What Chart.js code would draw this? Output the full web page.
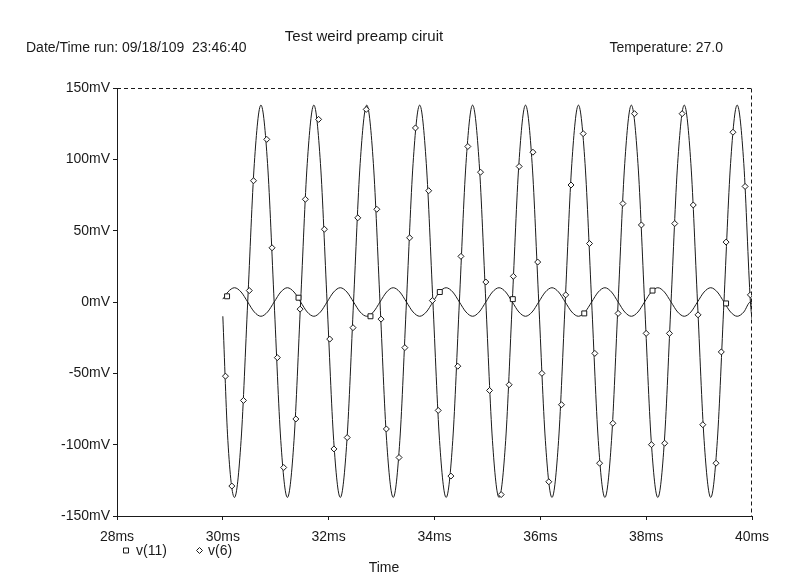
<!DOCTYPE html>
<html>
<head>
<meta charset="utf-8">
<script src="https://cdn.jsdelivr.net/npm/chart.js@4.4.1/dist/chart.umd.min.js"></script>
<style>
html,body{margin:0;padding:0;background:#fff;}
#wrap{width:800px;height:583px;position:relative;}
</style>
</head>
<body>
<div id="wrap"><canvas id="c" width="800" height="583"></canvas></div>
<script>
// ---- texts ----
const titleText = "Test weird preamp ciruit";
const runInfo = "Date/Time run: 09/18/109  23:46:40";
const tempInfo = "Temperature: 27.0";
const xAxisTitle = "Time";

// ---- ticks ----
const xTicks = [28, 30, 32, 34, 36, 38, 40];        // ms
const yTicks = [-150, -100, -50, 0, 50, 100, 150];  // mV

// ---- traces (time in ms, voltage in mV) ----
const timeMs = [
  30.000,
  30.095, 30.220, 30.345, 30.470, 30.595, 30.720, 30.845, 30.970,
  31.095, 31.220, 31.345, 31.470, 31.595, 31.720, 31.845, 31.970,
  32.095, 32.220, 32.345, 32.470, 32.595, 32.720, 32.845, 32.970,
  33.095, 33.220, 33.345, 33.470, 33.595, 33.720, 33.845, 33.970,
  34.095, 34.220, 34.345, 34.470, 34.595, 34.720, 34.845, 34.970,
  35.095, 35.220, 35.345, 35.470, 35.595, 35.720, 35.845, 35.970,
  36.095, 36.220, 36.345, 36.470, 36.595, 36.720, 36.845, 36.970,
  37.095, 37.220, 37.345, 37.470, 37.595, 37.720, 37.845, 37.970,
  38.095, 38.220, 38.345, 38.470, 38.595, 38.720, 38.845, 38.970,
  39.095, 39.220, 39.345, 39.470, 39.595, 39.720, 39.845, 39.970,
  40.000
];
const v6 = [
  -10,
  -97, -137, -97, 0, 97, 138, 97, 0,
  -97, -137, -97, 0, 97, 138, 97, 0,
  -97, -137, -97, 0, 97, 138, 97, 0,
  -97, -137, -97, 0, 97, 138, 97, 0,
  -97, -137, -97, 0, 97, 138, 97, 0,
  -97, -137, -97, 0, 97, 138, 97, 0,
  -97, -137, -97, 0, 97, 138, 97, 0,
  -97, -137, -97, 0, 97, 138, 97, 0,
  -97, -137, -97, 0, 97, 138, 97, 0,
  -97, -137, -97, 0, 97, 138, 97, 0,
  -12
];
const v11 = [
  2,
  7, 10, 7, 0, -7, -10, -7, 0,
  7, 10, 7, 0, -7, -10, -7, 0,
  7, 10, 7, 0, -7, -10, -7, 0,
  7, 10, 7, 0, -7, -10, -7, 0,
  7, 10, 7, 0, -7, -10, -7, 0,
  7, 10, 7, 0, -7, -10, -7, 0,
  7, 10, 7, 0, -7, -10, -7, 0,
  7, 10, 7, 0, -7, -10, -7, 0,
  7, 10, 7, 0, -7, -10, -7, 0,
  7, 10, 7, 0, -7, -10, -7, 0,
  -2
];

// ---- marker points ----
const v6MarkT = [30.05,30.17,30.39,30.50,30.58,30.83,30.93,31.03,31.15,31.38,31.46,31.56,31.81,31.92,
  32.02,32.10,32.35,32.46,32.55,32.71,32.91,32.99,33.09,33.33,33.44,33.53,33.64,33.89,33.96,
  34.07,34.31,34.44,34.50,34.63,34.87,34.97,35.04,35.26,35.41,35.49,35.60,35.86,35.95,
  36.03,36.16,36.40,36.48,36.58,36.81,36.93,37.03,37.12,37.37,37.47,37.56,37.78,37.91,
  38.00,38.10,38.35,38.44,38.54,38.68,38.89,38.98,39.07,39.32,39.42,39.51,39.64,39.87,39.97];
const v6MarkV = [-52,-129,-69,8,85,114,38,-39,-116,-82,-5,72,128,51,
  -26,-103,-95,-18,59,135,65,-12,-89,-109,-32,45,122,78,1,
  -76,-122,-45,32,109,91,14,-62,-135,-58,18,95,105,28,
  -50,-126,-72,5,82,118,41,-36,-113,-85,-8,69,132,54,
  -22,-100,-99,-22,55,132,68,-9,-86,-113,-35,42,119,81,5];
const v11MarkT = [30.08, 31.43, 32.79, 34.10, 35.48, 36.83, 38.12, 39.51];
const v11MarkV = [4, 3, -10, 7, 2, -8, 8, -1];

const seriesNames = ["v(11)", "v(6)"];

// ---- build ----
const FONT = '"Liberation Sans", Arial, sans-serif';
const INK = '#1a1a1a';
const pts = (xs, ys) => xs.map((x, i) => ({x: x, y: ys[i]}));

const framePlugin = {
  id: 'frameAndTexts',
  afterDraw(chart) {
    const ctx = chart.ctx;
    const a = chart.chartArea;
    ctx.save();
    // dashed top and right frame edges
    ctx.strokeStyle = INK;
    ctx.lineWidth = 1;
    ctx.setLineDash([4, 3]);
    ctx.beginPath();
    const t = Math.round(a.top) + 0.5, r = Math.round(a.right) - 0.5;
    ctx.moveTo(Math.round(a.left), t); ctx.lineTo(r, t);
    ctx.moveTo(r, t); ctx.lineTo(r, Math.round(a.bottom));
    ctx.stroke();
    ctx.setLineDash([]);
    // header texts
    ctx.fillStyle = INK;
    ctx.textBaseline = 'middle';
    ctx.font = '15px ' + FONT;
    ctx.textAlign = 'center';
    ctx.fillText(titleText, 364, 37);
    ctx.font = '14px ' + FONT;
    ctx.textAlign = 'left';
    ctx.fillText(runInfo, 26, 48);
    ctx.textAlign = 'right';
    ctx.fillText(tempInfo, 723, 48);
    // axis title
    ctx.textAlign = 'center';
    ctx.fillText(xAxisTitle, 384, 568);
    // legend
    ctx.textAlign = 'left';
    const ly = 550.5;
    ctx.strokeStyle = INK;
    ctx.fillStyle = '#fff';
    ctx.beginPath();
    ctx.rect(123.5, ly - 2.5, 5, 5);
    ctx.fill(); ctx.stroke();
    ctx.beginPath();
    ctx.moveTo(199.5, ly - 3); ctx.lineTo(202.5, ly); ctx.lineTo(199.5, ly + 3); ctx.lineTo(196.5, ly); ctx.closePath();
    ctx.fill(); ctx.stroke();
    ctx.fillStyle = INK;
    ctx.fillText(seriesNames[0], 136, 551);
    ctx.fillText(seriesNames[1], 208, 551);
    ctx.restore();
  }
};

new Chart(document.getElementById('c'), {
  type: 'line',
  data: {
    datasets: [
      { label: seriesNames[0], data: pts(timeMs, v11), borderColor: INK, borderWidth: 1,
        pointRadius: 0, cubicInterpolationMode: 'monotone', fill: false, order: 3 },
      { label: seriesNames[1], data: pts(timeMs, v6), borderColor: INK, borderWidth: 1,
        pointRadius: 0, cubicInterpolationMode: 'monotone', fill: false, order: 4 },
      { label: seriesNames[0] + ' markers', data: pts(v11MarkT, v11MarkV), showLine: false,
        pointStyle: 'rect', pointRadius: 3.5, borderColor: INK, backgroundColor: '#fff', borderWidth: 1, order: 1 },
      { label: seriesNames[1] + ' markers', data: pts(v6MarkT, v6MarkV), showLine: false,
        pointStyle: 'rectRot', pointRadius: 3, borderColor: INK, backgroundColor: '#fff', borderWidth: 1, order: 2 }
    ]
  },
  options: {
    responsive: false,
    animation: false,
    devicePixelRatio: 1,
    layout: { padding: { top: 88, right: 48, bottom: 37, left: 0 } },
    plugins: { legend: { display: false }, title: { display: false }, tooltip: { enabled: false } },
    scales: {
      x: {
        type: 'linear', min: 28, max: 40,
        afterBuildTicks: s => { s.ticks = xTicks.map(v => ({ value: v })); },
        afterFit: s => { s.height = 30; },
        ticks: { callback: v => v + 'ms', color: INK, font: { family: FONT, size: 14 }, padding: 9, maxRotation: 0, autoSkip: false },
        grid: { display: true, drawOnChartArea: false, drawTicks: true, tickLength: 4, color: INK },
        border: { display: true, color: INK, width: 1, dash: [4, 3] }
      },
      y: {
        type: 'linear', min: -150, max: 150,
        afterBuildTicks: s => { s.ticks = yTicks.map(v => ({ value: v })); },
        afterFit: s => { s.width = 117; },
        ticks: { callback: v => v + 'mV', color: INK, font: { family: FONT, size: 14 }, padding: 3, autoSkip: false },
        grid: { display: true, drawOnChartArea: false, drawTicks: true, tickLength: 4, color: INK },
        border: { display: true, color: INK, width: 1, dash: [4, 3] }
      }
    }
  },
  plugins: [framePlugin]
});
</script>
</body>
</html>
